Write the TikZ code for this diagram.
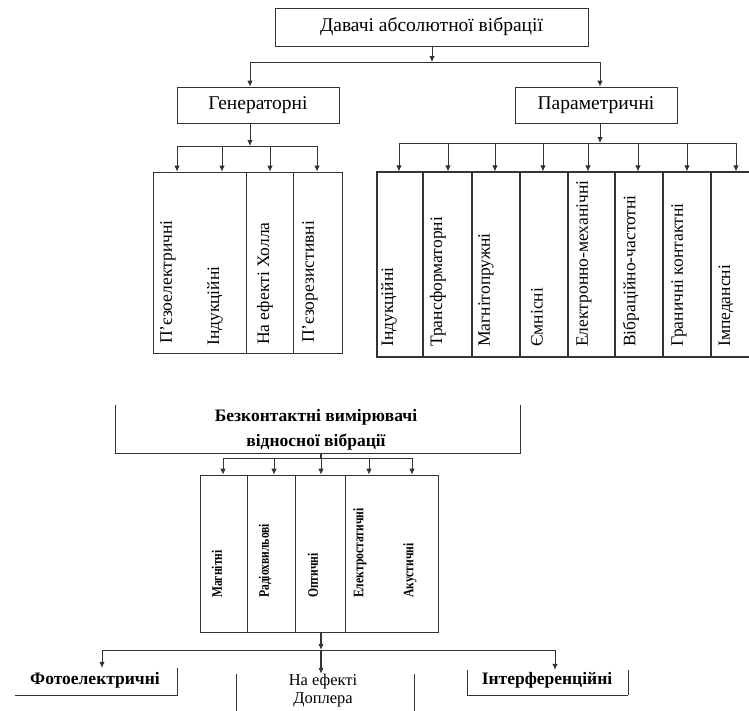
\documentclass[tikz,border=0pt]{standalone}
\usepackage{fontspec}
\setmainfont{Liberation Serif}
\usetikzlibrary{arrows.meta}
\tikzset{
  ln/.style={draw=black!80, line width=0.8pt},
  arr/.style={ln, -{Latex[length=6pt,width=5.5pt]}},
  boxn/.style={draw=black!80, line width=0.8pt, rectangle, inner sep=0pt, font=\fontsize{19.5}{22}\selectfont},
  col/.style={draw=black!80, line width=0.8pt, rectangle, inner sep=0pt},
  vt/.style={rotate=90, anchor=west, inner sep=0pt, font=\fontsize{17.5}{19}\selectfont},
  vs/.style={rotate=90, anchor=west, inner sep=0pt, font=\fontsize{14.5}{16}\selectfont\bfseries},
  lab/.style={inner sep=0pt, align=center, font=\fontsize{17.5}{25}\selectfont\bfseries},
}
\begin{document}
\begin{tikzpicture}[x=1pt,y=-1pt]
\useasboundingbox (0,0) rectangle (749,710);
\clip (0,0) rectangle (749,710);

% ---------- top part ----------
\node[boxn, minimum width=313pt, minimum height=38pt] (top) at (431.5,27) {Давачі абсолютної вібрації};
\node[boxn, minimum width=162pt, minimum height=36pt] (gen) at (258,105) {Генераторні};
\node[boxn, minimum width=162pt, minimum height=36pt] (par) at (596,105) {Параметричні};

\coordinate (b1) at (432,62);
\coordinate (b1g) at (250,62);
\coordinate (b1p) at (600,62);
\draw[arr] (top.south -| b1) -- (b1);
\draw[ln] (b1g) -- (b1p);
\draw[arr] (b1g) -- (b1g |- gen.north);
\draw[arr] (b1p) -- (b1p |- par.north);

% generator columns
\node[col, minimum width=93pt, minimum height=181pt] (g1) at (199.5,262.5) {};
\node[col, minimum width=47pt, minimum height=181pt] (g2) at (269.5,262.5) {};
\node[col, minimum width=49pt, minimum height=181pt] (g3) at (317.5,262.5) {};

\coordinate (go) at (250,146);
\draw[arr] (gen.south -| go) -- (go);
\foreach \x [count=\i] in {177,222,270,317} {
  \coordinate (gb\i) at (\x,146);
  \draw[arr] (gb\i) -- (gb\i |- g1.north);
}
\draw[ln] (gb1) -- (gb4);

\node[vt] (gt1) at (168,344) {П'єзоелектричні};
\node[vt] (gt2) at (215,346) {Індукційні};
\node[vt] (gt3) at (265,345) {На ефекті  Холла};
\node[vt] (gt4) at (310,343) {П'єзорезистивні};

% parametric columns
\foreach \l/\r [count=\i] in {377/423,423/472,472/520,520/568,568/615,615/663,663/711,711/758} {
  \node[col, line width=1.1pt, minimum width={\r-\l}, minimum height=185pt] (p\i) at ({(\l+\r)/2},264.5) {};
}
\coordinate (po) at (600,143);
\draw[arr] (par.south -| po) -- (po);
\foreach \x [count=\i] in {399,448,495,543,588,638,687,736} {
  \coordinate (pb\i) at (\x,143);
  \draw[arr] (pb\i) -- (pb\i |- p1.north);
}
\draw[ln] (pb1) -- (pb8);

\node[vt] (pt1) at (389,347) {Індукційні};
\node[vt] (pt2) at (438,347) {Трансформаторні};
\node[vt] (pt3) at (486,347) {Магнітопружні};
\node[vt] (pt4) at (537,347) {Ємнісні};
\node[vt] (pt5) at (584,347) {Електронно-механічні};
\node[vt] (pt6) at (631,347) {Вібраційно-частотні};
\node[vt] (pt7) at (679,347) {Граничні контактні};
\node[vt] (pt8) at (726,347) {Імпедансні};

% ---------- bottom part ----------
\node[minimum width=404pt, minimum height=48pt, inner sep=0pt] (bk) at (318,429) {};
\draw[ln, line width=1pt] (bk.north west) -- (bk.south west) -- (bk.south east) -- (bk.north east);
\node[lab] (bkt) at (316,430) {Безконтактні вимірювачі\\відносної вібрації};

\node[col, minimum width=47pt, minimum height=157pt] (m1) at (223.5,553.5) {};
\node[col, minimum width=48pt, minimum height=157pt] (m2) at (271,553.5) {};
\node[col, minimum width=50pt, minimum height=157pt] (m3) at (320,553.5) {};
\node[col, minimum width=93pt, minimum height=157pt] (m4) at (391.5,553.5) {};

\coordinate (mo) at (321,458);
\draw[ln, line width=1.4pt] (bk.south -| mo) -- (mo);
\foreach \x [count=\i] in {223,274,321,369,412} {
  \coordinate (mb\i) at (\x,458);
  \draw[arr] (mb\i) -- (mb\i |- m1.north);
}
\draw[ln] (mb1) -- (mb5);

\node[vs] (mt1) at (217,598) {\scalebox{0.8}[1]{Магнітні}};
\node[vs] (mt2) at (265,598) {\scalebox{0.8}[1]{Радіохвильові}};
\node[vs] (mt3) at (313,598) {\scalebox{0.8}[1]{Оптичні}};
\node[vs] (mt4) at (360,598) {\scalebox{0.8}[1]{Електростатичні}};
\node[vs] (mt5) at (410,598) {\scalebox{0.8}[1]{Акустичні}};

% lowest row
\coordinate (lo) at (321,650);
\draw[arr, line width=1.2pt] (m3.south -| lo) -- (lo);
\coordinate (l1) at (102,650);
\coordinate (l3) at (555,650);
\draw[ln] (l1) -- (l3);

\node[minimum width=162pt, minimum height=27pt, inner sep=0pt] (ph) at (96,681.5) {};
\draw[ln] (ph.south west) -- (ph.south east) -- (ph.north east);
\node[lab] (pht) at (95,680) {Фотоелектричні};

\node[minimum width=177pt, minimum height=40pt, inner sep=0pt] (dp) at (325.5,694) {};
\draw[ln] (dp.north west) -- (dp.south west);
\draw[ln] (dp.north east) -- (dp.south east);
\node[inner sep=0pt, align=center, font=\fontsize{16.5}{18}\selectfont] (dpt) at (323,691) {На ефекті\\Доплера};

\node[minimum width=160pt, minimum height=25pt, inner sep=0pt] (it) at (548,682.5) {};
\draw[ln] (it.north west) -- (it.south west) -- (it.south east);
\draw[ln, line width=1.4pt] (it.south east) -- (it.north east);
\node[lab] (itt) at (547,680) {Інтерференційні};

\draw[arr] (l1) -- (l1 |- ph.north);
\draw[arr, line width=1.2pt] (lo) -- (lo |- dp.north);
\draw[arr] (l3) -- (l3 |- it.north);
\end{tikzpicture}
\end{document}
